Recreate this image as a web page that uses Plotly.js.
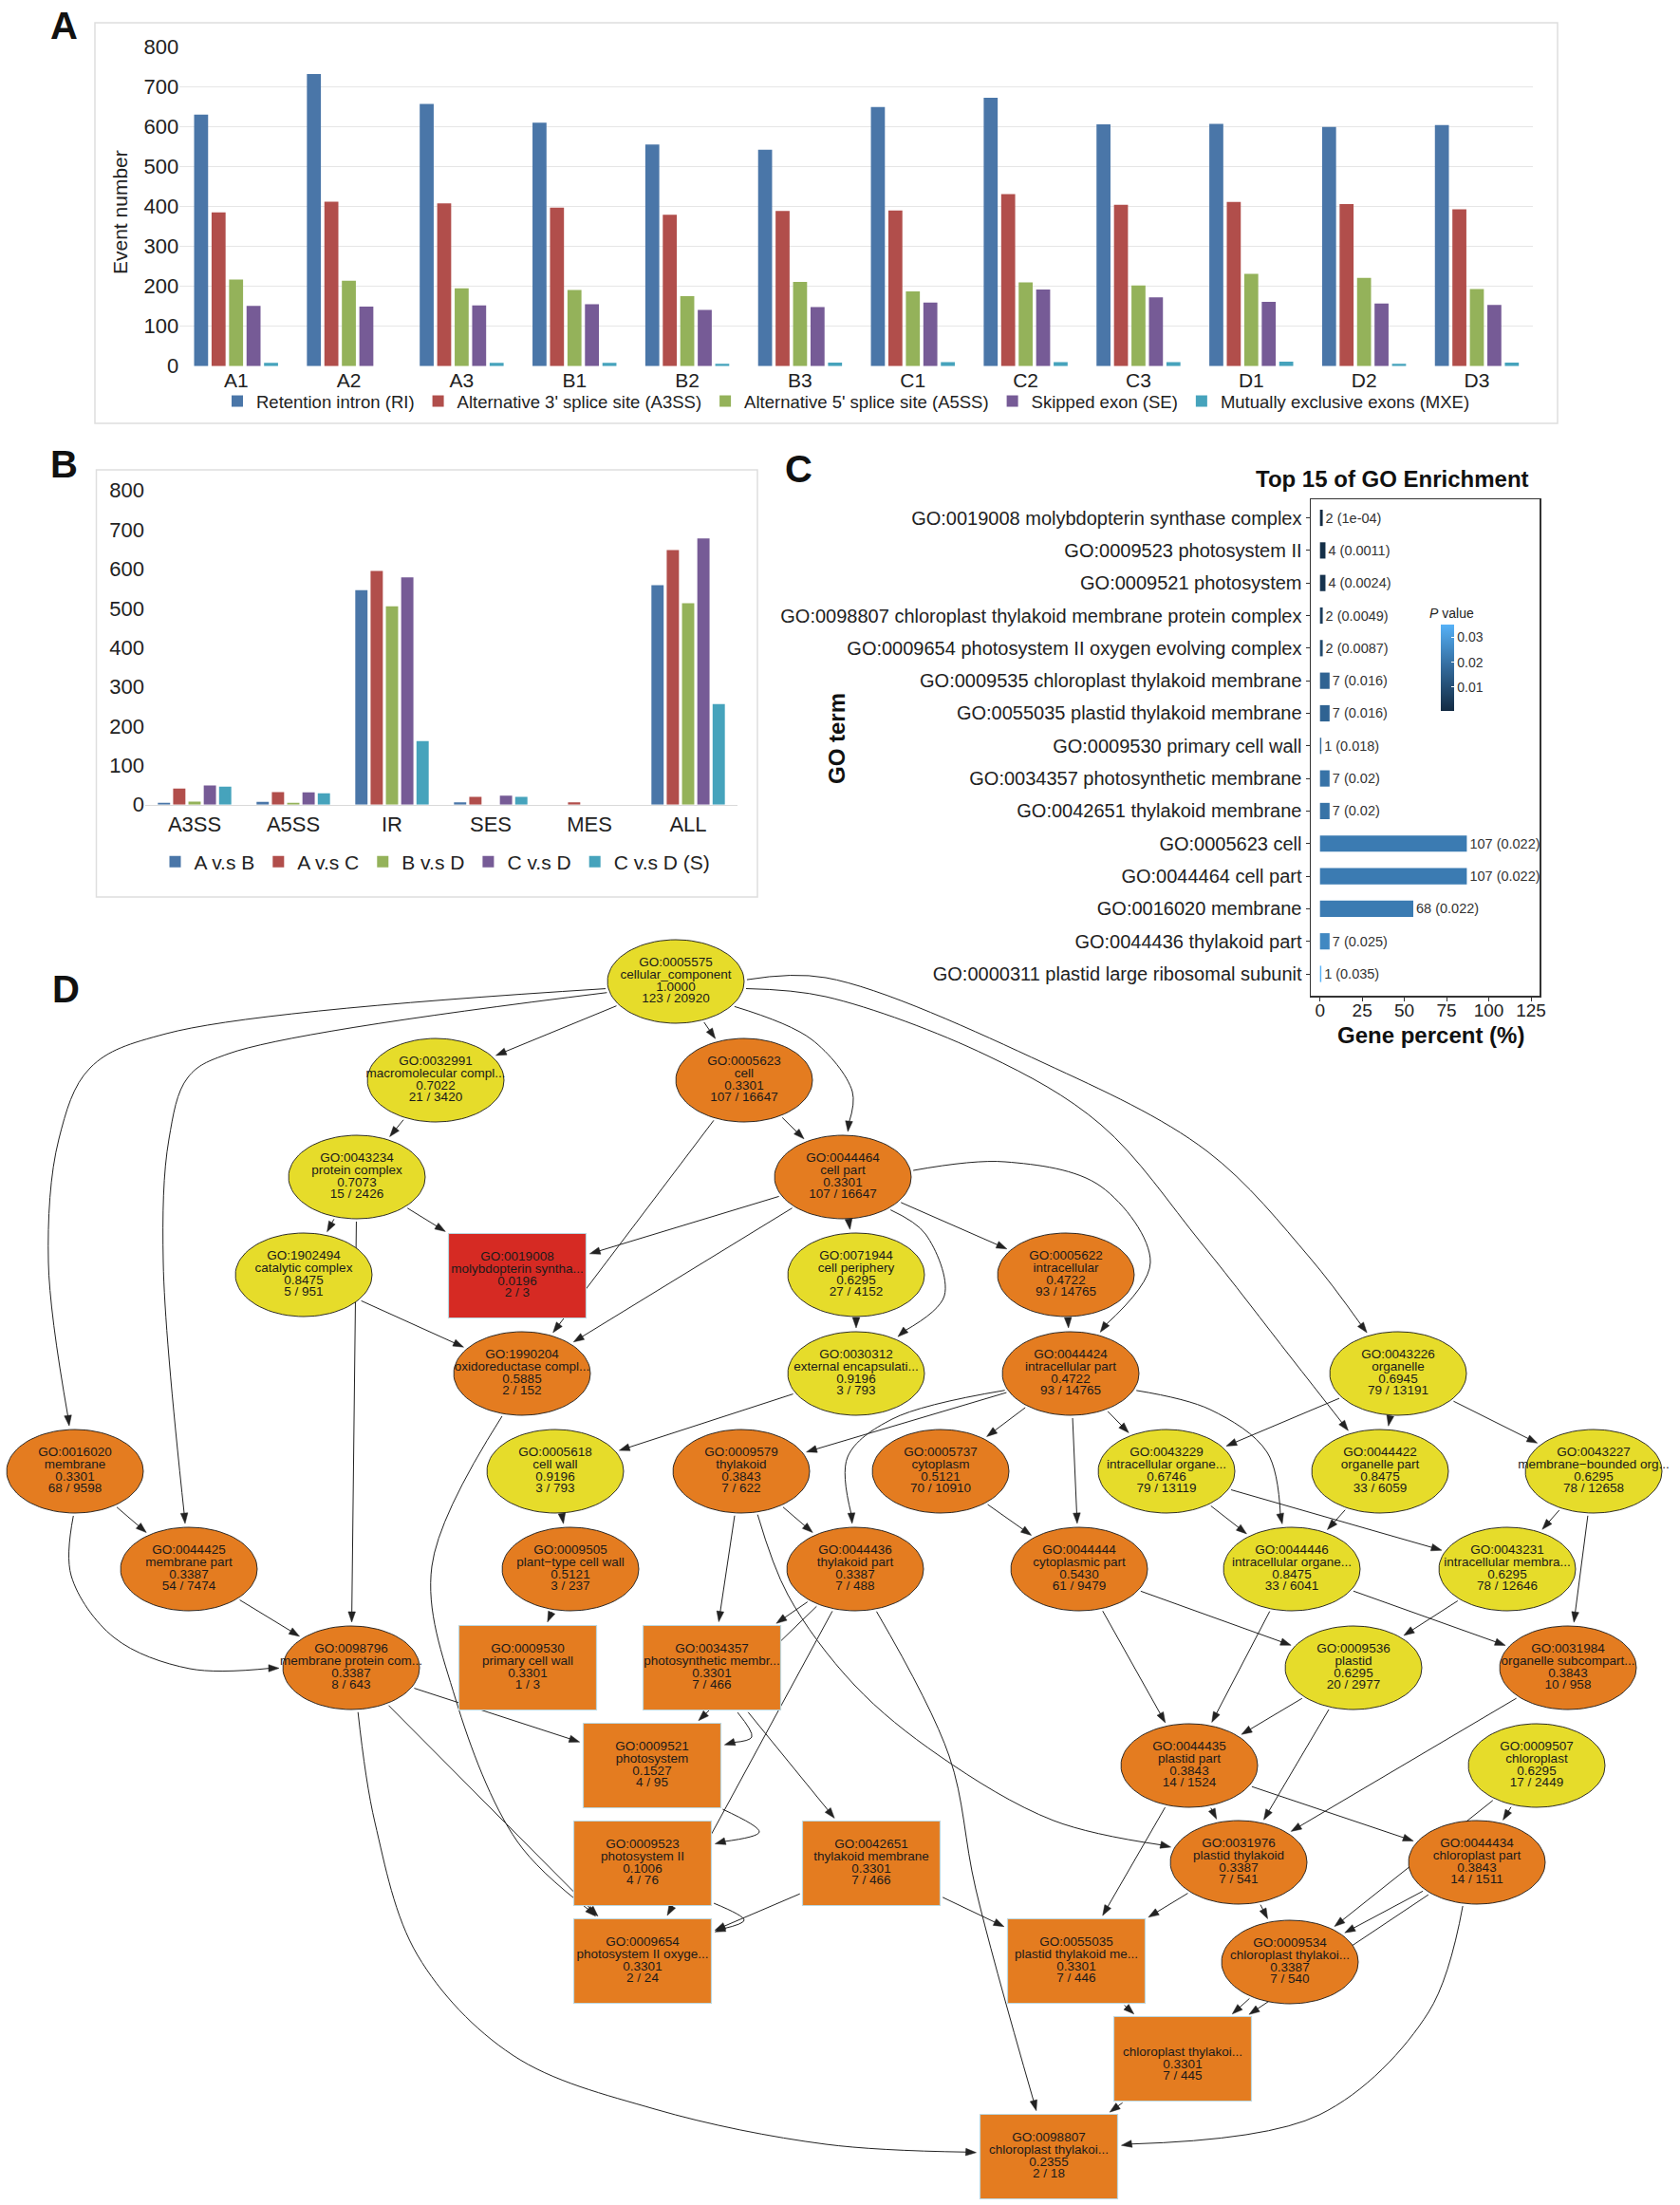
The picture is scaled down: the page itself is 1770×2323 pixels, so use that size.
<!DOCTYPE html>
<html><head><meta charset="utf-8">
<script src="https://cdn.plot.ly/plotly-3.0.1.min.js"></script>
<style>html,body{margin:0;padding:0;background:#fff}#chart{width:1770px;height:2323px}</style>
</head><body><div id="chart"></div>
<script>
// ---------------- Panel A data ----------------
const samplesA = ['A1','A2','A3','B1','B2','B3','C1','C2','C3','D1','D2','D3'];
const eventTypesA = ['Retention intron (RI)', "Alternative 3' splice site (A3SS)", "Alternative 5' splice site (A5SS)", 'Skipped exon (SE)', 'Mutually exclusive exons (MXE)'];
const riA   = [630,732,657,610,555,542,649,672,606,607,599,604];
const a3ssA = [385,412,408,397,379,389,390,431,404,411,406,393];
const a5ssA = [217,214,195,191,175,211,187,210,202,231,221,193];
const seA   = [151,149,152,155,141,148,159,192,172,161,157,153];
const mxeA  = [8,0,8,8,6,9,10,10,10,11,6,9];

// ---------------- Panel B data ----------------
const eventTypesB = ['A3SS','A5SS','IR','SES','MES','ALL'];
const comparisonsB = ['A v.s B','A v.s C','B v.s D','C v.s D','C v.s D (S)'];
const avbB  = [5,7,546,6,0,559];
const avcB  = [41,32,595,20,6,648];
const bvdB  = [8,5,505,0,0,513];
const cvdB  = [49,31,579,23,0,678];
const cvdsB = [46,29,162,20,0,256];

// ---------------- Panel C data ----------------
const goTerms = [
 'GO:0019008 molybdopterin synthase complex',
 'GO:0009523 photosystem II',
 'GO:0009521 photosystem',
 'GO:0098807 chloroplast thylakoid membrane protein complex',
 'GO:0009654 photosystem II oxygen evolving complex',
 'GO:0009535 chloroplast thylakoid membrane',
 'GO:0055035 plastid thylakoid membrane',
 'GO:0009530 primary cell wall',
 'GO:0034357 photosynthetic membrane',
 'GO:0042651 thylakoid membrane',
 'GO:0005623 cell',
 'GO:0044464 cell part',
 'GO:0016020 membrane',
 'GO:0044436 thylakoid part',
 'GO:0000311 plastid large ribosomal subunit'];
const genePercent = [1.63,3.25,3.25,1.63,1.63,5.69,5.69,0.81,5.69,5.69,86.99,86.99,55.28,5.69,0.81];
const geneCount = [2,4,4,2,2,7,7,1,7,7,107,107,68,7,1];
const pValue = [0.0001,0.0011,0.0024,0.0049,0.0087,0.016,0.016,0.018,0.02,0.02,0.022,0.022,0.022,0.025,0.035];
const pLabel = ['1e-04','0.0011','0.0024','0.0049','0.0087','0.016','0.016','0.018','0.02','0.02','0.022','0.022','0.022','0.025','0.035'];

// ---------------- Panel D data (GO DAG) ----------------
const nodeId = ['GO:0005575','GO:0032991','GO:0005623','GO:0043234','GO:0044464','GO:0019008','GO:1902494','GO:0071944','GO:0005622','GO:1990204','GO:0030312','GO:0044424','GO:0043226','GO:0016020','GO:0005618','GO:0009579','GO:0005737','GO:0043229','GO:0044422','GO:0043227','GO:0044425','GO:0009505','GO:0044436','GO:0044444','GO:0044446','GO:0043231','GO:0098796','GO:0009530','GO:0034357','GO:0009536','GO:0031984','GO:0009521','GO:0044435','GO:0009507','GO:0009523','GO:0042651','GO:0031976','GO:0044434','GO:0009654','GO:0055035','GO:0009534','','GO:0098807'];
const nodeName = ['cellular_component','macromolecular compl...','cell','protein complex','cell part','molybdopterin syntha...','catalytic complex','cell periphery','intracellular','oxidoreductase compl...','external encapsulati...','intracellular part','organelle','membrane','cell wall','thylakoid','cytoplasm','intracellular organe...','organelle part','membrane\u2212bounded org...','membrane part','plant\u2212type cell wall','thylakoid part','cytoplasmic part','intracellular organe...','intracellular membra...','membrane protein com...','primary cell wall','photosynthetic membr...','plastid','organelle subcompart...','photosystem','plastid part','chloroplast','photosystem II','thylakoid membrane','plastid thylakoid','chloroplast part','photosystem II oxyge...','plastid thylakoid me...','chloroplast thylakoi...','chloroplast thylakoi...','chloroplast thylakoi...'];
const nodeScore = ['1.0000','0.7022','0.3301','0.7073','0.3301','0.0196','0.8475','0.6295','0.4722','0.5885','0.9196','0.4722','0.6945','0.3301','0.9196','0.3843','0.5121','0.6746','0.8475','0.6295','0.3387','0.5121','0.3387','0.5430','0.8475','0.6295','0.3387','0.3301','0.3301','0.6295','0.3843','0.1527','0.3843','0.6295','0.1006','0.3301','0.3387','0.3843','0.3301','0.3301','0.3387','0.3301','0.2355'];
const nodeCount = ['123 / 20920','21 / 3420','107 / 16647','15 / 2426','107 / 16647','2 / 3','5 / 951','27 / 4152','93 / 14765','2 / 152','3 / 793','93 / 14765','79 / 13191','68 / 9598','3 / 793','7 / 622','70 / 10910','79 / 13119','33 / 6059','78 / 12658','54 / 7474','3 / 237','7 / 488','61 / 9479','33 / 6041','78 / 12646','8 / 643','1 / 3','7 / 466','20 / 2977','10 / 958','4 / 95','14 / 1524','17 / 2449','4 / 76','7 / 466','7 / 541','14 / 1511','2 / 24','7 / 446','7 / 540','7 / 445','2 / 18'];
const nodeShape = ['E','E','E','E','E','R','E','E','E','E','E','E','E','E','E','E','E','E','E','E','E','E','E','E','E','E','E','R','R','E','E','R','E','E','R','R','E','E','R','R','E','R','R'];
const nodeLevel = ['Y','Y','O','Y','O','R','Y','Y','O','O','Y','O','Y','O','Y','O','O','Y','Y','Y','O','O','O','O','Y','Y','O','O','O','Y','O','O','O','Y','O','O','O','O','O','O','O','O','O'];
// graph layout (page pixel positions of node centres)
const nodeX = [712,459,784,376,888,545,320,902,1123,550,902,1128,1473,79,585,781,991,1229,1454,1679,199,601,901,1137,1361,1588,370,556,750,1426,1652,687,1253,1619,677,918,1305,1556,677,1134,1359,1246,1105];
const nodeY = [1034,1138,1138,1240,1240,1344,1343,1343,1343,1447,1447,1447,1447,1550,1550,1550,1550,1550,1550,1550,1653,1653,1653,1653,1653,1653,1757,1757,1757,1757,1757,1860,1860,1860,1963,1963,1962,1962,2066,2066,2067,2169,2272];
// edges: parent -> child (1-based), with spline route points for curved edges
const edgeFrom = [1,1,2,4,4,4,3,3,5,5,5,5,7,8,9,11,12,12,12,12,13,13,13,14,15,16,16,17,18,18,19,20,20,21,22,23,23,23,24,24,25,25,26,27,27,29,30,30,31,33,33,33,34,34,36,36,37,37,38,38,40,41,42,
                  1,1,1,1,1,5,5,12,12,14,16,29,32,35,27,38,23,10];
const edgeTo   = [2,3,4,7,6,27,5,10,6,10,8,9,10,11,12,15,16,17,24,18,18,19,20,21,22,23,29,24,25,26,25,26,31,27,28,29,32,39,30,33,31,33,30,32,39,36,33,37,37,37,38,40,38,41,39,40,40,41,41,42,42,42,43,
                  14,21,5,19,13,11,12,23,25,27,37,32,35,39,43,43,43,39];
const edgeRoute = {
 '1-14': [[175,1089],[95,1125],[62,1200],[51,1330]],
 '1-21': [[241,1110],[198,1135],[178,1200],[172,1330]],
 '1-5':  [[855,1095],[898,1150]],
 '1-19': [[870,1050],[1040,1112],[1160,1185],[1266,1310],[1360,1430]],
 '1-13': [[870,1030],[1100,1120],[1272,1213],[1380,1325]],
 '5-11': [[975,1300],[995,1365]],
 '5-12': [[1059,1224],[1160,1250],[1212,1330]],
 '12-23':[[940,1495],[893,1535]],
 '12-25':[[1275,1485],[1335,1530]],
 '14-27':[[75,1660],[120,1725],[200,1758]],
 '16-37':[[830,1680],[900,1775],[990,1850],[1110,1918]],
 '29-32':[[792,1830]],
 '32-35':[[800,1930]],
 '35-39':[[784,2023]],
 '27-43':[[395,1920],[440,2060],[540,2165],[690,2222],[870,2259]],
 '38-43':[[1505,2120],[1390,2228]],
 '23-43':[[1000,1850],[1028,1990]],
 '10-39':[[455,1650],[480,1790],[545,1940]]
};

// ---------------- geometry helpers ----------------
const W = 1770, H = 2323;
const px = v => v / W, py = v => 1 - v / H;
const FONT = 'Arial, "Liberation Sans", Helvetica, sans-serif';
const HALF = {E:[72,44], R:[72.5,44.5]};

function boundary(i, tx, ty, gap) {
  const dx = tx - nodeX[i], dy = ty - nodeY[i];
  const len = Math.hypot(dx, dy) || 1;
  const ux = dx / len, uy = dy / len;
  const [a, b] = HALF[nodeShape[i]];
  let t;
  if (nodeShape[i] === 'R') t = Math.min(a / Math.max(Math.abs(ux),1e-9), b / Math.max(Math.abs(uy),1e-9));
  else t = 1 / Math.sqrt((ux/a)**2 + (uy/b)**2);
  return [nodeX[i] + ux*(t+gap), nodeY[i] + uy*(t+gap)];
}

const straightX = [], straightY = [], curveX = [], curveY = [], headX = [], headY = [];
const AL = 11, AW = 3.8;
for (let k = 0; k < edgeFrom.length; k++) {
  const f = edgeFrom[k]-1, t = edgeTo[k]-1;
  const via = edgeRoute[edgeFrom[k]+'-'+edgeTo[k]] || [];
  const first = via.length ? via[0] : [nodeX[t], nodeY[t]];
  const last = via.length ? via[via.length-1] : [nodeX[f], nodeY[f]];
  const s = boundary(f, first[0], first[1], 3);
  const e = boundary(t, last[0], last[1], 4);
  const prev = via.length ? last : s;
  let dx = e[0]-prev[0], dy = e[1]-prev[1];
  const L = Math.hypot(dx,dy) || 1; dx/=L; dy/=L;
  const base = [e[0]-dx*AL, e[1]-dy*AL];
  const lineEnd = [e[0]-dx*(AL-2), e[1]-dy*(AL-2)];
  const pts = [s, ...via, lineEnd];
  const tx = via.length ? curveX : straightX, ty = via.length ? curveY : straightY;
  pts.forEach(p => { tx.push(p[0]); ty.push(p[1]); });
  tx.push(null); ty.push(null);
  headX.push(e[0], base[0]-dy*AW, base[0]+dy*AW, e[0], null);
  headY.push(e[1], base[1]+dx*AW, base[1]-dx*AW, e[1], null);
}

function nodePolys(shape, level) {
  const xs = [], ys = [];
  for (let i = 0; i < nodeX.length; i++) {
    if (nodeShape[i] !== shape || nodeLevel[i] !== level) continue;
    const [a, b] = HALF[shape];
    if (shape === 'E') {
      for (let k = 0; k <= 80; k++) { const th = 2*Math.PI*k/80; xs.push(nodeX[i]+a*Math.cos(th)); ys.push(nodeY[i]+b*Math.sin(th)); }
    } else {
      [[-a,-b],[a,-b],[a,b],[-a,b],[-a,-b]].forEach(p => { xs.push(nodeX[i]+p[0]); ys.push(nodeY[i]+p[1]); });
    }
    xs.push(null); ys.push(null);
  }
  return [xs, ys];
}
const levelColor = {Y:'#e6dc2a', O:'#e47c20', R:'#d62a23'};

const textX = [], textY = [], textS = [];
const LINE = 12.7;
for (let i = 0; i < nodeX.length; i++) {
  [nodeId[i], nodeName[i], nodeScore[i], nodeCount[i]].forEach((s, j) => {
    if (!s) return;
    textX.push(nodeX[i]); textY.push(nodeY[i] + (j-1.5)*LINE); textS.push(s);
  });
}

// ---------------- traces ----------------
const colorsA = ['#4a76a8','#b14e4b','#94b25a','#765b96','#46a3bc'];
const seriesA = [riA, a3ssA, a5ssA, seA, mxeA];
const seriesB = [avbB, avcB, bvdB, cvdB, cvdsB];
const traces = [];
seriesA.forEach((vals, k) => traces.push({type:'bar', x:samplesA, y:vals, name:eventTypesA[k], xaxis:'x', yaxis:'y', legend:'legend', marker:{color:colorsA[k]}, hoverinfo:'skip'}));
seriesB.forEach((vals, k) => traces.push({type:'bar', x:eventTypesB, y:vals, name:comparisonsB[k], xaxis:'x2', yaxis:'y2', legend:'legend2', marker:{color:colorsA[k]}, hoverinfo:'skip'}));
traces.push({type:'bar', orientation:'h', y:goTerms, x:genePercent, xaxis:'x3', yaxis:'y3', width:0.5, showlegend:false,
  text: geneCount.map((c,i) => c + ' (' + pLabel[i] + ')'), textposition:'outside', cliponaxis:false,
  textfont:{size:14.5, color:'#333'}, hoverinfo:'skip',
  marker:{color:pValue, cmin:0.0001, cmax:0.035, colorscale:[[0,'#132B43'],[0.5,'#32699a'],[1,'#56B1F7']], showscale:true,
    colorbar:{x:px(1518), xanchor:'left', xpad:0, ypad:0, y:py(704), yanchor:'middle', len:91, lenmode:'pixels', thickness:14, thicknessmode:'pixels',
      tickvals:[0.01,0.02,0.03], ticktext:['0.01','0.02','0.03'], ticks:'inside', ticklen:3, tickcolor:'#ffffff', outlinewidth:0,
      tickfont:{size:14, color:'#333'}, title:{text:''}}}});
// Panel D
traces.push({type:'scatter', mode:'lines', x:straightX, y:straightY, xaxis:'x4', yaxis:'y4', line:{color:'#222', width:1}, showlegend:false, hoverinfo:'skip'});
traces.push({type:'scatter', mode:'lines', x:curveX, y:curveY, xaxis:'x4', yaxis:'y4', line:{color:'#222', width:1, shape:'spline', smoothing:1}, showlegend:false, hoverinfo:'skip'});
traces.push({type:'scatter', mode:'lines', x:headX, y:headY, xaxis:'x4', yaxis:'y4', fill:'toself', fillcolor:'#222', line:{color:'#222', width:0.5}, showlegend:false, hoverinfo:'skip'});
[['E','Y'],['E','O'],['R','O'],['R','R']].forEach(([sh, lv]) => {
  const [xs, ys] = nodePolys(sh, lv);
  traces.push({type:'scatter', mode:'lines', x:xs, y:ys, xaxis:'x4', yaxis:'y4', fill:'toself', fillcolor:levelColor[lv],
    line: sh === 'E' ? {color:'#1a1a1a', width:0.9} : {color:'#bcd8e0', width:1.2}, showlegend:false, hoverinfo:'skip'});
});
traces.push({type:'scatter', mode:'text', x:textX, y:textY, text:textS, textposition:'middle center', xaxis:'x4', yaxis:'y4',
  textfont:{size:13.5, color:'#1a1a1a', family:FONT}, showlegend:false, hoverinfo:'skip'});

// ---------------- layout ----------------
const annFont = (s, bold) => ({size:s, color:'#111', family: bold ? 'Arial Black, Arial, "Liberation Sans", sans-serif' : FONT});
const layout = {
  width:W, height:H, margin:{l:0,r:0,t:0,b:0}, paper_bgcolor:'#ffffff', plot_bgcolor:'rgba(0,0,0,0)',
  font:{family:FONT, color:'#222'}, barmode:'group', bargap:0.225, bargroupgap:0.2,
  xaxis:{domain:[px(189.3),px(1615.4)], anchor:'y', type:'category', range:[-0.5,11.5], autorange:false, showgrid:false, zeroline:false, showline:false, ticks:'', tickfont:{size:21, color:'#222'}, fixedrange:true},
  yaxis:{domain:[py(385.7),py(49.3)], anchor:'x', range:[0,800], autorange:false, dtick:100, showgrid:true, gridcolor:'#e6e6e6', gridwidth:1.5, zeroline:false, showline:false, ticks:'', tickfont:{size:22, color:'#222'}, fixedrange:true},
  xaxis2:{domain:[px(153),px(777)], anchor:'y2', type:'category', range:[-0.5,5.5], autorange:false, showgrid:false, zeroline:false, showline:true, linecolor:'#d9d9d9', linewidth:1.5, ticks:'', tickfont:{size:22, color:'#222'}, fixedrange:true},
  yaxis2:{domain:[py(847.7),py(516.7)], anchor:'x2', range:[0,800], autorange:false, dtick:100, showgrid:false, zeroline:false, showline:false, ticks:'', tickfont:{size:22, color:'#222'}, fixedrange:true},
  xaxis3:{domain:[px(1381),px(1622)], anchor:'y3', range:[-5.45,130.06], autorange:false, tickvals:[0,25,50,75,100,125], showgrid:false, zeroline:false, showline:true, mirror:true, linecolor:'#333', linewidth:1.5, ticks:'outside', ticklen:4, tickcolor:'#333', ticklabelstandoff:-6, tickfont:{size:19, color:'#222'}, fixedrange:true},
  yaxis3:{domain:[py(1049),py(526)], anchor:'x3', type:'category', categoryorder:'array', categoryarray:goTerms, range:[14.67,-0.57], autorange:false, showgrid:false, zeroline:false, showline:true, mirror:true, linecolor:'#333', linewidth:1.5, ticks:'outside', ticklen:4, tickcolor:'#333', tickfont:{size:20, color:'#222'}, fixedrange:true},
  xaxis4:{domain:[0,1], anchor:'y4', range:[0,W], autorange:false, visible:false, fixedrange:true},
  yaxis4:{domain:[0,1], anchor:'x4', range:[H,0], autorange:false, visible:false, fixedrange:true},
  legend:{orientation:'h', x:px(892), xanchor:'center', y:py(423), yanchor:'middle', font:{size:18.5, color:'#222'}, bgcolor:'rgba(0,0,0,0)', tracegroupgap:0},
  legend2:{orientation:'h', x:px(459), xanchor:'center', y:py(908), yanchor:'middle', font:{size:21, color:'#222'}, bgcolor:'rgba(0,0,0,0)', tracegroupgap:0},
  shapes:[
    {type:'rect', xref:'paper', yref:'paper', x0:px(100), x1:px(1641), y0:py(446), y1:py(24), line:{color:'#dedede', width:1.5}, fillcolor:'rgba(0,0,0,0)'},
    {type:'rect', xref:'paper', yref:'paper', x0:px(101.5), x1:px(798), y0:py(945), y1:py(495), line:{color:'#dedede', width:1.5}, fillcolor:'rgba(0,0,0,0)'}
  ],
  annotations:[
    {xref:'paper', yref:'paper', x:px(67), y:py(27), text:'<b>A</b>', showarrow:false, xanchor:'center', yanchor:'middle', font:annFont(40,true)},
    {xref:'paper', yref:'paper', x:px(67), y:py(489), text:'<b>B</b>', showarrow:false, xanchor:'center', yanchor:'middle', font:annFont(40,true)},
    {xref:'paper', yref:'paper', x:px(841), y:py(494), text:'<b>C</b>', showarrow:false, xanchor:'center', yanchor:'middle', font:annFont(40,true)},
    {xref:'paper', yref:'paper', x:px(69), y:py(1042), text:'<b>D</b>', showarrow:false, xanchor:'center', yanchor:'middle', font:annFont(40,true)},
    {xref:'paper', yref:'paper', x:px(126), y:py(224), text:'Event number', textangle:-90, showarrow:false, xanchor:'center', yanchor:'middle', font:{size:21, color:'#222'}},
    {xref:'paper', yref:'paper', x:px(1467), y:py(505), text:'<b>Top 15 of GO Enrichment</b>', showarrow:false, xanchor:'center', yanchor:'middle', font:{size:24, color:'#111'}},
    {xref:'paper', yref:'paper', x:px(881), y:py(778), text:'<b>GO term</b>', textangle:-90, showarrow:false, xanchor:'center', yanchor:'middle', font:{size:24, color:'#111'}},
    {xref:'paper', yref:'paper', x:px(1507), y:py(1090), text:'<b>Gene percent (%)</b>', showarrow:false, xanchor:'center', yanchor:'middle', font:{size:24, color:'#111'}},
    {xref:'paper', yref:'paper', x:px(1529), y:py(645.5), text:'<i>P</i> value', showarrow:false, xanchor:'center', yanchor:'middle', font:{size:14, color:'#222'}}
  ]
};
Plotly.newPlot('chart', traces, layout, {staticPlot:true, displayModeBar:false});
</script>
</body></html>
